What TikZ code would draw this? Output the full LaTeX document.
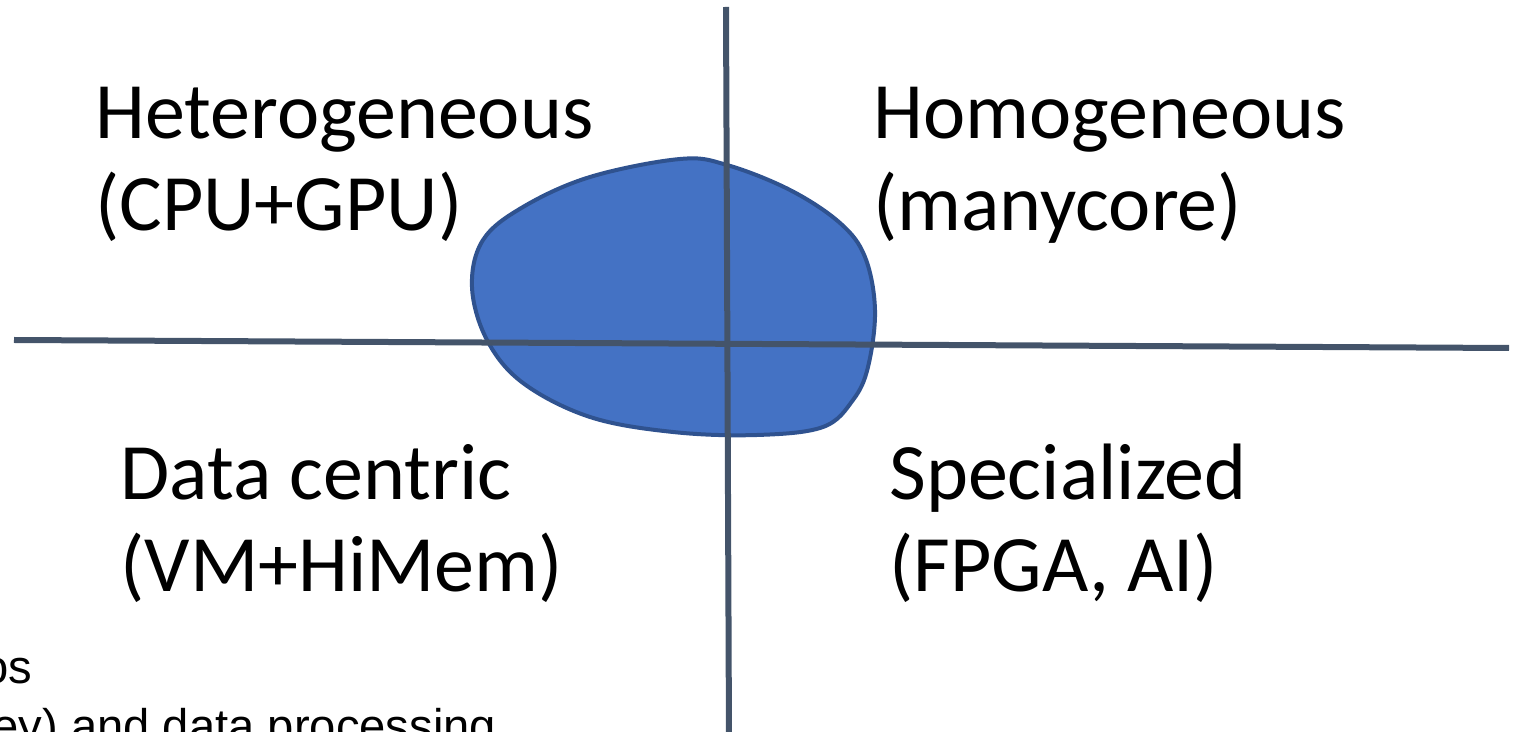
\documentclass[tikz,border=0pt]{standalone}
\usepackage{fontspec}
\setmainfont{Carlito}
\newfontfamily\notefont{Liberation Sans}
\begin{document}
\begin{tikzpicture}[x=0.5pt,y=-0.5pt,
  axis/.style={draw=axisgrey,line width=3pt},
  blob/.style={fill=blobfill,draw=blobedge,line width=2pt},
  quadlabel/.style={anchor=base west,inner sep=0pt,align=left,
    font=\fontsize{40}{46}\selectfont},
  note/.style={anchor=base west,inner sep=0pt,
    font=\notefont\fontsize{23.6}{29}\selectfont}]
\definecolor{axisgrey}{HTML}{44546A}
\definecolor{blobfill}{HTML}{4472C4}
\definecolor{blobedge}{HTML}{2F528F}
\clip (0,0) rectangle (1522,732);

% the shaded region in the middle
\path[blob] plot[smooth cycle,tension=0.6] coordinates {
  (680,159) (727,165) (790,190) (840,223) (865,257) (875,310)
  (868,367) (853,400) (823,427) (757,435) (673,432) (590,417)
  (523,383) (487,340) (472,287) (483,240) (523,207) (590,177)};

% axes
\coordinate (hl) at (14,340);
\coordinate (hr) at (1509,348);
\coordinate (vt) at (726,7);
\coordinate (vb) at (729,740);
\draw[axis] (hl) -- (hr);
\draw[axis] (vt) -- (vb);

% quadrant labels (anchored on the baseline of their last line)
\node[quadlabel] (het) at (95,231) {Heterogeneous\\(CPU+GPU)};
\node[quadlabel] (hom) at (873,231) {Homogeneous\\(manycore)};
\node[quadlabel] (dat) at (120,592) {Data centric\\(VM+HiMem)};
\node[quadlabel] (spe) at (889,592) {Specialized\\(FPGA, AI)};

% notes running off the lower left edge
\node[note] (n1) at (-18,683) {os};
\node[note] (n2) at (-8,742) {ey) and data processing};
\end{tikzpicture}
\end{document}
